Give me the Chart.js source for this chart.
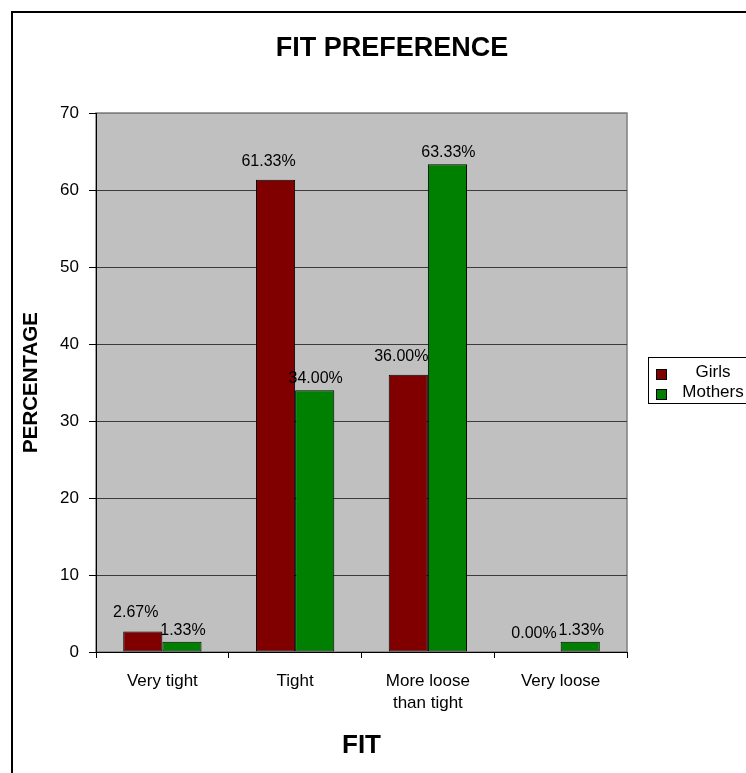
<!DOCTYPE html>
<html>
<head>
<meta charset="utf-8">
<title>FIT PREFERENCE</title>
<script src="https://cdn.jsdelivr.net/npm/chart.js@4.4.1/dist/chart.umd.min.js"></script>
<style>
  html, body { margin: 0; padding: 0; background: #ffffff; }
  #wrap { position: relative; width: 746px; height: 773px; }
</style>
</head>
<body>
<div id="wrap"><canvas id="chart" width="746" height="773"></canvas></div>
<script>
// Survey results: preferred fit of garments, girls vs. mothers (percent)
const chartTitle = 'FIT PREFERENCE';
const categories = [["Very tight"], ["Tight"], ["More loose", "than tight"], ["Very loose"]];
const girls = [2.67, 61.33, 36.00, 0.00];
const mothers = [1.33, 34.00, 63.33, 1.33];
const seriesNames = ["Girls", "Mothers"];
const yTicks = [0, 10, 20, 30, 40, 50, 60, 70];

const FONT = "'Liberation Sans', Arial, Helvetica, sans-serif";
const PLOT_BG = '#c0c0c0';

// Grey plot background, the outer frame of the figure and its heading
const framePlugin = {
  id: 'frame',
  beforeDraw(chart) {
    const { ctx, chartArea: a } = chart;
    ctx.save();
    ctx.fillStyle = '#ffffff';
    ctx.fillRect(0, 0, chart.width, chart.height);
    ctx.lineWidth = 2;
    ctx.strokeStyle = '#000000';
    ctx.strokeRect(12, 12, chart.width + 40, chart.height + 40);
    ctx.fillStyle = '#000000';
    ctx.font = 'bold 27px ' + FONT;
    ctx.textAlign = 'center';
    ctx.textBaseline = 'middle';
    ctx.fillText(chartTitle, 392, 49);
    ctx.fillStyle = PLOT_BG;
    ctx.fillRect(a.left, a.top, a.right - a.left, a.bottom - a.top);
    ctx.lineWidth = 1.5;
    ctx.strokeStyle = '#808080';
    ctx.strokeRect(a.left, a.top, a.right - a.left, a.bottom - a.top);
    ctx.restore();
  }
};

// Percentage labels above each column
const valueLabels = {
  id: 'valueLabels',
  afterDatasetsDraw(chart) {
    const { ctx } = chart;
    const shift = [{ dx: -7, gap: 14 }, { dx: 1, gap: 7 }];
    ctx.save();
    ctx.font = '16px ' + FONT;
    ctx.fillStyle = '#000000';
    ctx.textAlign = 'center';
    ctx.textBaseline = 'alphabetic';
    chart.data.datasets.forEach((ds, i) => {
      const meta = chart.getDatasetMeta(i);
      meta.data.forEach((bar, j) => {
        const v = ds.data[j];
        ctx.fillText(v.toFixed(2) + '%', bar.x + shift[i].dx, bar.y - shift[i].gap);
      });
    });
    ctx.restore();
  }
};

// Boxed legend on the right-hand side
const boxLegend = {
  id: 'boxLegend',
  afterDraw(chart) {
    const { ctx } = chart;
    const x0 = 648, y0 = 357;
    ctx.save();
    ctx.lineWidth = 1;
    ctx.strokeStyle = '#000000';
    ctx.strokeRect(x0 + 0.5, y0 + 0.5, 140, 46);
    ctx.font = '17px ' + FONT;
    ctx.textAlign = 'center';
    ctx.textBaseline = 'middle';
    chart.data.datasets.forEach((ds, i) => {
      const cy = y0 + 17 + i * 20;
      ctx.fillStyle = ds.backgroundColor;
      ctx.fillRect(x0 + 8, cy - 5, 10, 10);
      ctx.strokeStyle = '#000000';
      ctx.strokeRect(x0 + 8.5, cy - 4.5, 10, 10);
      ctx.fillStyle = '#000000';
      ctx.fillText(ds.label, x0 + 65, cy - 2);
    });
    ctx.restore();
  }
};

new Chart(document.getElementById('chart'), {
  type: 'bar',
  data: {
    labels: categories,
    datasets: [
      { label: seriesNames[0], data: girls, backgroundColor: '#800000',
        borderColor: '#000000', borderWidth: 1, borderSkipped: false,
        categoryPercentage: 0.59, barPercentage: 1.0 },
      { label: seriesNames[1], data: mothers, backgroundColor: '#008000',
        borderColor: '#000000', borderWidth: 1, borderSkipped: false,
        categoryPercentage: 0.59, barPercentage: 1.0 }
    ]
  },
  options: {
    responsive: false,
    animation: false,
    devicePixelRatio: 1,
    layout: { padding: { top: 113, left: 0, right: 119, bottom: 0 } },
    plugins: {
      legend: { display: false },
      tooltip: { enabled: false },
      title: { display: false }
    },
    scales: {
      x: {
        offset: true,
        afterFit(scale) { scale.height = 121; },
        grid: {
          offset: true,
          drawOnChartArea: false,
          drawTicks: true,
          tickLength: 6,
          tickColor: '#000000'
        },
        border: { display: true, color: '#000000', width: 1 },
        ticks: {
          color: '#000000',
          padding: 12,
          maxRotation: 0,
          autoSkip: false,
          font: { family: FONT, size: 17, lineHeight: 1.3 }
        },
        title: {
          display: true,
          text: 'FIT',
          color: '#000000',
          font: { family: FONT, size: 26, weight: 'bold' },
          padding: { top: 0, bottom: 12 }
        }
      },
      y: {
        min: 0,
        max: 70,
        afterFit(scale) { scale.width = 96; },
        afterBuildTicks(scale) { scale.ticks = yTicks.map(v => ({ value: v })); },
        grid: {
          color: ctx => (ctx.tick && ctx.tick.value === 70) ? '#808080' : '#3a3a3a',
          lineWidth: 1,
          drawTicks: true,
          tickLength: 7,
          tickColor: '#000000'
        },
        border: { display: true, color: '#000000', width: 1 },
        ticks: {
          color: '#000000',
          padding: 10,
          font: { family: FONT, size: 17 }
        },
        title: {
          display: true,
          text: 'PERCENTAGE',
          color: '#000000',
          font: { family: FONT, size: 20.5, weight: 'bold' },
          padding: { top: 19, bottom: 0 }
        }
      }
    }
  },
  plugins: [framePlugin, valueLabels, boxLegend]
});
</script>
</body>
</html>
